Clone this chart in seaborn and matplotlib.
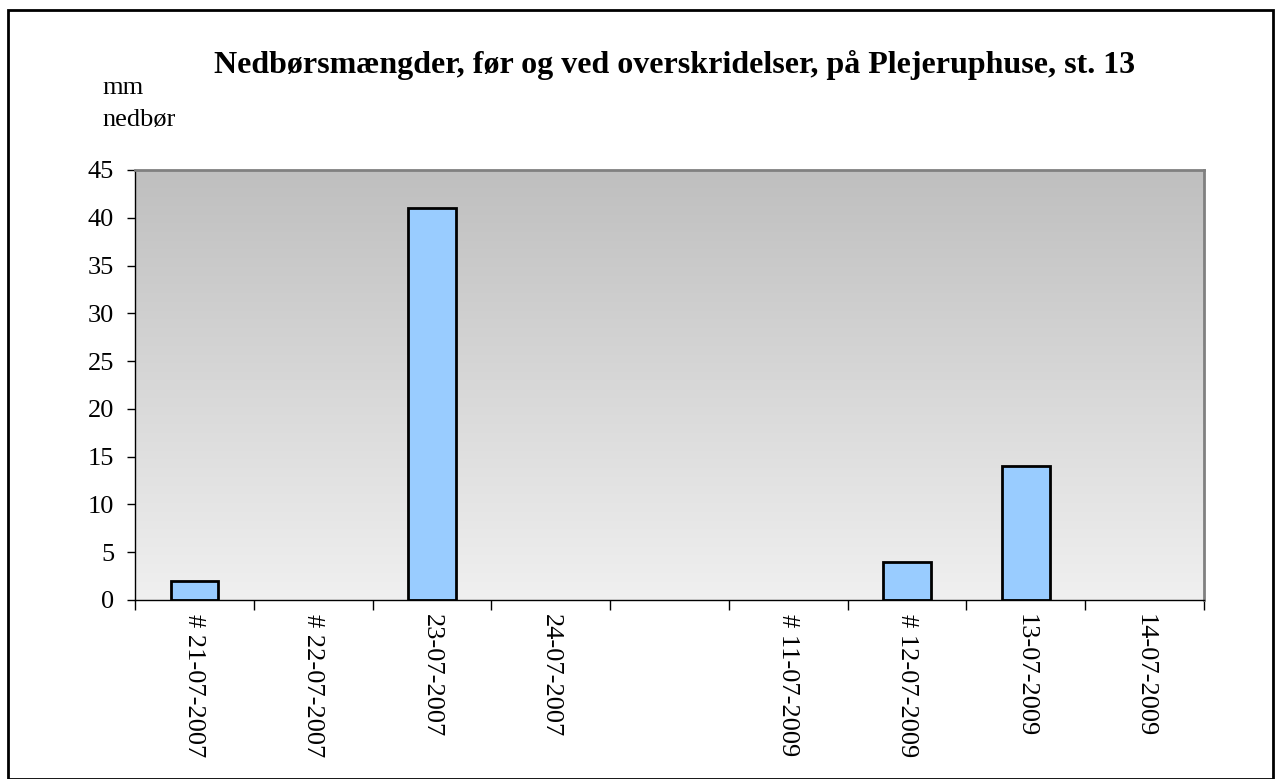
import numpy as np
import pandas as pd
import matplotlib
matplotlib.use("Agg")
import matplotlib.pyplot as plt
import seaborn as sns

# data
datoer = ["# 21-07-2007", "# 22-07-2007", "23-07-2007", "24-07-2007", " ",
          "# 11-07-2009", "# 12-07-2009", "13-07-2009", "14-07-2009"]
nedboer = [2, 0, 41, 0, np.nan, 0, 4, 14, 0]

df = pd.DataFrame({"dato": datoer, "mm": nedboer})

sns.set_style("white")
plt.rcParams["font.family"] = ["Liberation Serif", "DejaVu Serif"]
plt.rcParams["text.color"] = "black"
plt.rcParams["xtick.color"] = "black"
plt.rcParams["ytick.color"] = "black"

fig = plt.figure(figsize=(12.79, 7.79), dpi=100)
ax = fig.add_axes([135 / 1279, 1 - 600 / 779, (1204 - 135) / 1279, (600 - 170) / 779])

# gradient background, dark at top
grad = np.linspace(0, 1, 256).reshape(-1, 1)
cmap = matplotlib.colors.LinearSegmentedColormap.from_list("g", ["#bfbfbf", "#f0f0f0"])
ax.imshow(grad, cmap=cmap, aspect="auto", extent=[-0.5, 8.5, 0, 45],
          origin="upper", zorder=0)

sns.barplot(data=df, x="dato", y="mm", order=datoer, color="#99ccff",
            width=0.4, edgecolor="black", linewidth=2, saturation=1, ax=ax, zorder=2)
for p in ax.patches:
    if p.get_height() == 0 or np.isnan(p.get_height()):
        p.set_linewidth(0)

ax.set_xlim(-0.5, 8.5)
ax.set_ylim(0, 45)
ax.set_yticks(range(0, 46, 5))
ax.tick_params(axis="y", labelsize=19, length=6, width=1, left=True, pad=9)
ax.set_xticks(np.arange(-0.5, 9, 1), minor=False)
ax.set_xticklabels([])
ax.set_xticks(range(9), minor=True)
ax.set_xticklabels(datoer, minor=True, rotation=270, fontsize=19, va="top", ha="center")
ax.tick_params(axis="x", which="major", length=7, width=1, bottom=True)
ax.tick_params(axis="x", which="minor", length=0, pad=10)
ax.set_xlabel("")
ax.set_ylabel("")

for s in ["top", "right"]:
    ax.spines[s].set_color("#808080")
    ax.spines[s].set_linewidth(2)
for s in ["left", "bottom"]:
    ax.spines[s].set_color("black")
    ax.spines[s].set_linewidth(1)
    ax.spines[s].set_visible(True)

fig.text(675 / 1279, 1 - 65 / 779, "Nedbørsmængder, før og ved overskridelser, på Plejeruphuse, st. 13",
         ha="center", va="center", fontsize=23, fontweight="bold")
fig.text(102 / 1279, 1 - 88 / 779, "mm", ha="left", va="center", fontsize=19)
fig.text(102 / 1279, 1 - 120 / 779, "nedbør", ha="left", va="center", fontsize=19)

# frame round the figure
fig.patches.append(plt.Rectangle((8 / 1279, 0), 1265 / 1279, 1 - 10 / 779,
                                 transform=fig.transFigure, fill=False,
                                 edgecolor="black", linewidth=2))

fig.savefig("out.png", dpi=100)
